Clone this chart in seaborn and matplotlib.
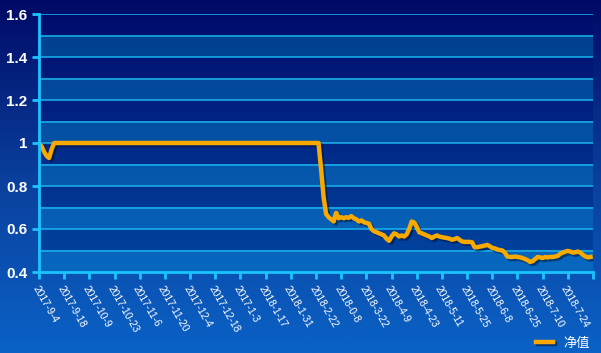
import numpy as np
import pandas as pd
import matplotlib
matplotlib.use("Agg")
import matplotlib.pyplot as plt
import matplotlib.patheffects as pe
from matplotlib.colors import LinearSegmentedColormap, to_rgb
import seaborn as sns

# ---- data ----
tick_labels = ["2017-9-4", "2017-9-18", "2017-10-9", "2017-10-23", "2017-11-6",
               "2017-11-20", "2017-12-4", "2017-12-18", "2017-1-3", "2018-1-17",
               "2018-1-31", "2018-2-22", "2018-0-8", "2018-3-22", "2018-4-9",
               "2018-4-23", "2018-5-11", "2018-5-25", "2018-6-8", "2018-6-25",
               "2018-7-10", "2018-7-24"]
day_index = [0, 1, 2, 3, 4, 5, 6,
             111, 112, 113, 114, 115, 116, 117, 118, 119, 120,
             121, 122, 123, 124, 125, 126, 127, 128, 129, 130,
             131, 132, 133, 134, 135, 136, 137, 138, 139, 140,
             141, 142, 143, 144, 145, 146, 147, 148, 149, 150,
             151, 152, 153, 154, 155, 156, 157, 158, 159, 160,
             161, 162, 163, 164, 165, 166, 167, 168, 169, 170,
             171, 172, 173, 174, 175, 176, 177, 178, 179, 180,
             181, 182, 183, 184, 185, 186, 187, 188, 189, 190,
             191, 192, 193, 194, 195, 196, 197, 198, 199, 200,
             201, 202, 203, 204, 205, 206, 207, 208, 209, 210,
             211, 212, 213, 214, 215, 216, 217, 218, 219]
net_value = [1.0, 0.985, 0.96, 0.94, 0.93, 0.97, 1.0,
             1.0, 0.88, 0.75, 0.67, 0.655, 0.645, 0.635, 0.675, 0.65, 0.655,
             0.65, 0.655, 0.652, 0.66, 0.65, 0.645, 0.635, 0.64, 0.632, 0.628,
             0.625, 0.6, 0.59, 0.585, 0.58, 0.575, 0.57, 0.555, 0.545, 0.565,
             0.58, 0.575, 0.565, 0.57, 0.565, 0.575, 0.6, 0.635, 0.63, 0.61,
             0.585, 0.58, 0.575, 0.57, 0.565, 0.558, 0.565, 0.57, 0.565, 0.562,
             0.56, 0.558, 0.555, 0.55, 0.553, 0.558, 0.55, 0.542, 0.54, 0.54,
             0.54, 0.538, 0.515, 0.515, 0.518, 0.52, 0.523, 0.526, 0.52, 0.512,
             0.51, 0.505, 0.502, 0.5, 0.49, 0.472, 0.47, 0.47, 0.472, 0.47,
             0.468, 0.465, 0.46, 0.455, 0.447, 0.45, 0.46, 0.47, 0.468, 0.465,
             0.47, 0.468, 0.47, 0.47, 0.472, 0.475, 0.485, 0.49, 0.495, 0.498,
             0.495, 0.49, 0.492, 0.495, 0.49, 0.48, 0.472, 0.468, 0.47]
series_name = "净值"

df = pd.DataFrame({"idx": day_index, "value": net_value})

W, H = 601, 353
fig = plt.figure(figsize=(W / 100, H / 100), dpi=100)

# figure background gradient
bg = fig.add_axes([0, 0, 1, 1], zorder=-10)
bg_cmap = LinearSegmentedColormap.from_list("bg", ["#000a66", "#0a3f9c", "#0a62c6"])
bg.imshow(np.linspace(0, 1, 256).reshape(-1, 1), cmap=bg_cmap, aspect="auto",
          extent=[0, 1, 0, 1], origin="upper")
bg.set_axis_off()

left, right, top, bottom = 39 / W, 593 / W, 1 - 14 / H, 1 - 272 / H
ax = fig.add_axes([left, bottom, right - left, top - bottom])
ax.set_facecolor("none")

xmax = 220
ax.set_xlim(0, xmax)
ax.set_ylim(0.4, 1.6)

# plot-area: alternating bands over a vertical gradient
rows = 1200
yy = np.linspace(1.6, 0.4, rows)
t = (1.6 - yy) / 1.2
dark_top, dark_bot = np.array(to_rgb("#000c6c")), np.array(to_rgb("#0046a2"))
lite_top, lite_bot = np.array(to_rgb("#003c8c")), np.array(to_rgb("#0868c0"))
dark = dark_top[None, :] * (1 - t[:, None]) + dark_bot[None, :] * t[:, None]
lite = lite_top[None, :] * (1 - t[:, None]) + lite_bot[None, :] * t[:, None]
is_lite = (np.floor((yy - 0.4) / 0.1 + 1e-9).astype(int) % 2 == 0)
img = np.where(is_lite[:, None], lite, dark).reshape(rows, 1, 3)
ax.imshow(img, aspect="auto", extent=[0, xmax, 0.4, 1.6], origin="upper",
          zorder=0, interpolation="nearest")
for yv in np.arange(0.5, 1.61, 0.1):
    ax.axhline(yv, color="#1ab4ec", lw=1.1, zorder=1)

sns.lineplot(data=df, x="idx", y="value", ax=ax, color="#f7a900", linewidth=3.2,
             label=series_name, zorder=5,
             path_effects=[pe.SimpleLineShadow(offset=(1.5, -1.5), shadow_color="#001030", alpha=0.5),
                           pe.Normal()])

# axes styling
for s in ["top", "right"]:
    ax.spines[s].set_visible(False)
for s in ["left", "bottom"]:
    ax.spines[s].set_color("#1cc4ff")
    ax.spines[s].set_linewidth(2)
    ax.spines[s].set_zorder(6)

ax.set_yticks([0.4, 0.6, 0.8, 1.0, 1.2, 1.4, 1.6])
ax.set_yticklabels(["0.4", "0.6", "0.8", "1", "1.2", "1.4", "1.6"])
ax.set_xticks(list(range(0, 10 * len(tick_labels), 10)) + [xmax])
ax.set_xticklabels(tick_labels + [""])
ax.tick_params(axis="both", colors="#1cc4ff", width=2, length=5, direction="out")
for lab in ax.get_yticklabels():
    lab.set_color("white")
    lab.set_fontweight("bold")
    lab.set_fontsize(11)
    lab.set_family(["Liberation Sans", "DejaVu Sans"])
for lab in ax.get_xticklabels():
    lab.set_color("white")
    lab.set_fontsize(7.4)
    lab.set_rotation(-60)
    lab.set_ha("left")
    lab.set_va("top")
    lab.set_rotation_mode("anchor")
    lab.set_family(["Liberation Sans", "DejaVu Sans"])
ax.set_xlabel("")
ax.set_ylabel("")

leg = ax.legend(loc="center right", bbox_to_anchor=(595 / W, 1 - 343 / H),
                bbox_transform=fig.transFigure, frameon=False, handlelength=1.3,
                prop={"family": ["Noto Sans CJK SC", "DejaVu Sans"], "size": 9.5},
                labelcolor="white", handletextpad=0.8, borderaxespad=0)

fig.savefig("out.png", dpi=100)
